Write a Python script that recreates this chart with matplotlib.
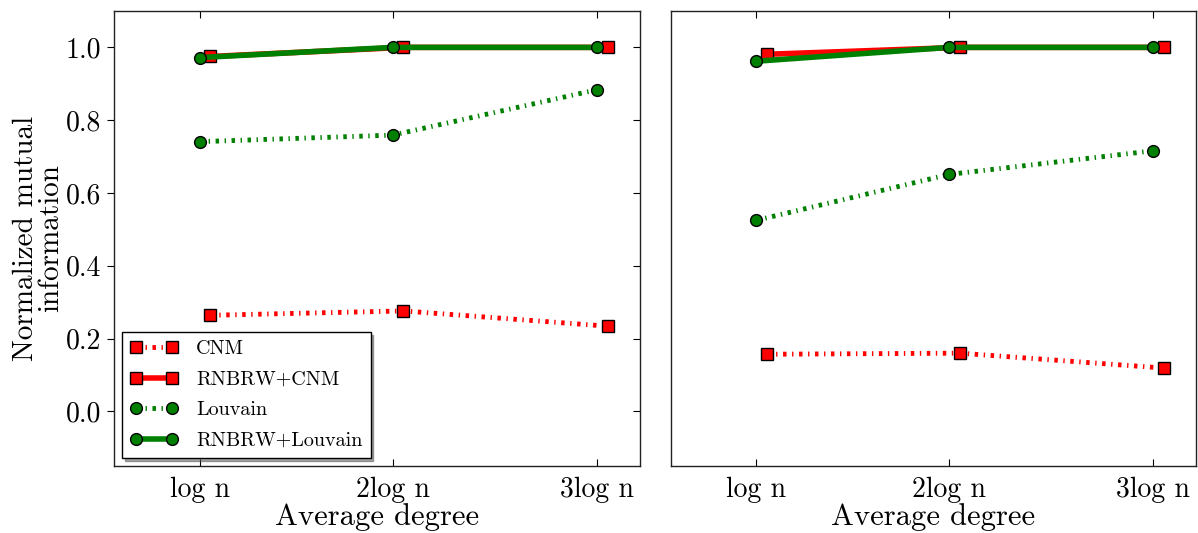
"""Normalized mutual information vs average degree, two panels."""

import matplotlib

matplotlib.use("Agg")

import matplotlib.pyplot as plt

plt.rcParams["font.family"] = ["cmr10", "DejaVu Serif"]
plt.rcParams["mathtext.fontset"] = "cm"
plt.rcParams["axes.formatter.use_mathtext"] = True
plt.rcParams["lines.scale_dashes"] = False

# x positions of the three degree settings and their labels
degree = [1.0, 2.0, 3.06]
degree_labels = ["log n", "2log n", "3log n"]
square_shift = 0.055  # CNM markers drawn slightly right of the tick

# left panel
left_cnm = [0.264, 0.276, 0.234]
left_rnbrw_cnm = [0.975, 1.0, 1.0]
left_louvain = [0.741, 0.759, 0.884]
left_rnbrw_louvain = [0.972, 1.0, 1.0]

# right panel
right_cnm = [0.157, 0.160, 0.119]
right_rnbrw_cnm = [0.981, 1.0, 1.0]
right_louvain = [0.525, 0.651, 0.716]
right_rnbrw_louvain = [0.962, 1.0, 1.0]

DASHDOT = (0, (2.5, 4.0, 1.0, 4.0))


def draw_panel(ax, cnm, rnbrw_cnm, louvain, rnbrw_louvain):
    xs = [x + square_shift for x in degree]
    common = dict(markersize=8.5, markeredgecolor="black", markeredgewidth=1.0)
    ax.plot(xs, cnm, color="red", linestyle=DASHDOT, linewidth=3.5,
            marker="s", markerfacecolor="red", label="CNM", **common)
    ax.plot(xs, rnbrw_cnm, color="red", linestyle="-", linewidth=4,
            marker="s", markerfacecolor="red", label="RNBRW+CNM", **common)
    ax.plot(degree, louvain, color="green", linestyle=DASHDOT, linewidth=3.5,
            marker="o", markerfacecolor="green", label="Louvain", **common)
    ax.plot(degree, rnbrw_louvain, color="green", linestyle="-", linewidth=4,
            marker="o", markerfacecolor="green", label="RNBRW+Louvain", **common)

    ax.set_xlim(0.555, 3.28)
    ax.set_ylim(-0.15, 1.1)
    ax.set_xticks(degree)
    ax.set_xticklabels(degree_labels)
    ax.set_xlabel("Average degree", fontsize=22, labelpad=0)
    ax.tick_params(axis="x", direction="in", top=True, bottom=True,
                   length=5, labelsize=20, pad=8)
    for spine in ax.spines.values():
        spine.set_linewidth(1.0)
        spine.set_color("#222222")


fig = plt.figure(figsize=(11.98, 5.33), dpi=100)
ax_left = fig.add_axes([0.0949, 0.1257, 0.4393, 0.8537])
ax_right = fig.add_axes([0.5599, 0.1257, 0.4382, 0.8537])

draw_panel(ax_left, left_cnm, left_rnbrw_cnm, left_louvain, left_rnbrw_louvain)
draw_panel(ax_right, right_cnm, right_rnbrw_cnm, right_louvain, right_rnbrw_louvain)

ax_left.set_yticks([0.0, 0.2, 0.4, 0.6, 0.8, 1.0])
ax_left.set_yticklabels(["0.0", "0.2", "0.4", "0.6", "0.8", "1.0"])
ax_left.tick_params(axis="y", direction="out", left=True, right=False,
                    length=5, labelsize=20, pad=4)
sec = ax_left.secondary_yaxis("right")
sec.set_yticks([0.0, 0.2, 0.4, 0.6, 0.8, 1.0])
sec.tick_params(axis="y", direction="in", length=5, labelright=False)
sec.spines["right"].set_visible(False)
ax_left.set_ylabel("Normalized mutual\ninformation", fontsize=21,
                   linespacing=0.95, labelpad=1)

ax_right.set_yticks([])

ax_left.legend(loc="lower left", fontsize=14.5, numpoints=2, handlelength=2.4,
               handletextpad=0.9, shadow=True, fancybox=False, framealpha=1,
               edgecolor="black", borderaxespad=0.4, labelspacing=0.62)

fig.savefig("out.png", dpi=100)
